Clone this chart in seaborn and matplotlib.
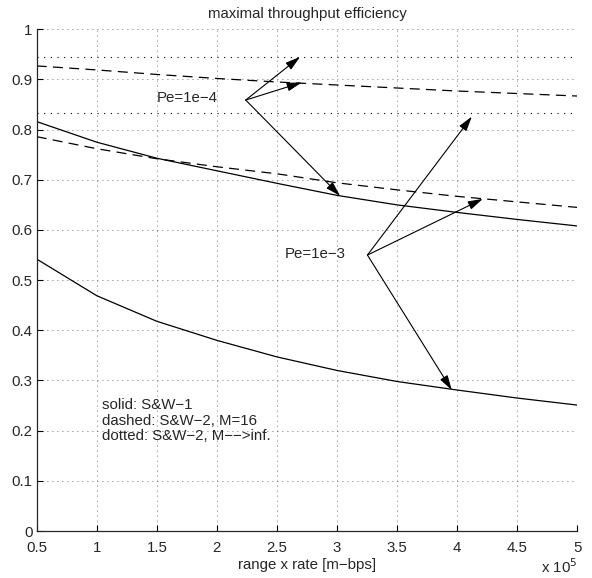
import matplotlib
matplotlib.use('Agg')
import matplotlib.pyplot as plt
import seaborn as sns
import pandas as pd

# range x rate, in units of 1e5 [m-bps]
x = [0.5, 1.0, 1.5, 2.0, 2.5, 3.0, 3.5, 4.0, 4.5, 5.0]

# Pe = 1e-4
sw1_pe4 = [0.816, 0.775, 0.743, 0.718, 0.693, 0.669, 0.650, 0.635, 0.621, 0.608]
sw2_m16_pe4 = [0.927, 0.919, 0.910, 0.902, 0.895, 0.889, 0.883, 0.877, 0.872, 0.867]
# Pe = 1e-3
sw1_pe3 = [0.542, 0.469, 0.418, 0.380, 0.347, 0.320, 0.298, 0.281, 0.265, 0.251]
sw2_m16_pe3 = [0.786, 0.762, 0.742, 0.726, 0.712, 0.694, 0.680, 0.667, 0.656, 0.645]
# M --> inf (flat)
x_inf = [0.5, 5.0]
sw2_inf_pe4 = [0.945, 0.945]
sw2_inf_pe3 = [0.833, 0.833]

xticks = [0.5, 1, 1.5, 2, 2.5, 3, 3.5, 4, 4.5, 5]
xticklabels = ['0.5', '1', '1.5', '2', '2.5', '3', '3.5', '4', '4.5', '5']
yticks = [0, 0.1, 0.2, 0.3, 0.4, 0.5, 0.6, 0.7, 0.8, 0.9, 1]
yticklabels = ['0', '0.1', '0.2', '0.3', '0.4', '0.5', '0.6', '0.7', '0.8', '0.9', '1']

# arrows: label origin -> targets
arrow_pe4_from = (2.240, 0.859)
arrow_pe4_to = [(2.692, 0.945), (2.706, 0.894), (3.025, 0.668)]
arrow_pe3_from = (3.253, 0.550)
arrow_pe3_to = [(4.122, 0.826), (4.213, 0.662), (3.955, 0.281)]

FS = 10.8

sns.set_style('ticks')
plt.rcParams['font.family'] = ['Liberation Sans', 'DejaVu Sans']
plt.rcParams['font.size'] = FS
plt.rcParams['xtick.direction'] = 'in'
plt.rcParams['ytick.direction'] = 'in'

fig = plt.figure(figsize=(5.92, 5.78), dpi=100)
ax = fig.add_axes([0.062, 0.0813, 0.9132, 0.868])

df = pd.DataFrame({'x': x, 'sw1_pe4': sw1_pe4, 'sw2_m16_pe4': sw2_m16_pe4,
                   'sw1_pe3': sw1_pe3, 'sw2_m16_pe3': sw2_m16_pe3})
df_inf = pd.DataFrame({'x': x_inf, 'pe4': sw2_inf_pe4, 'pe3': sw2_inf_pe3})

lw = 0.9
sns.lineplot(data=df, x='x', y='sw1_pe4', ax=ax, color='k', lw=lw)
sns.lineplot(data=df, x='x', y='sw1_pe3', ax=ax, color='k', lw=lw)
sns.lineplot(data=df, x='x', y='sw2_m16_pe4', ax=ax, color='k', lw=lw, linestyle=(0, (8, 5)))
sns.lineplot(data=df, x='x', y='sw2_m16_pe3', ax=ax, color='k', lw=lw, linestyle=(0, (8, 5)))
sns.lineplot(data=df_inf, x='x', y='pe4', ax=ax, color='k', lw=0.8, linestyle=(0, (1, 5)))
sns.lineplot(data=df_inf, x='x', y='pe3', ax=ax, color='k', lw=0.8, linestyle=(0, (1, 5)))

ax.set_xlim(0.5, 5)
ax.set_ylim(0, 1)
ax.set_xticks(xticks)
ax.set_xticklabels(xticklabels)
ax.set_yticks(yticks)
ax.set_yticklabels(yticklabels)
ax.tick_params(length=4, width=0.8, color='k', labelsize=FS)
ax.tick_params(axis='x', pad=7.5)
ax.tick_params(axis='y', pad=3)
ax.grid(True, color='#444444', linestyle=(0, (1, 5)), linewidth=0.6)
sns.despine(ax=ax)
ax.spines['left'].set_linewidth(0.9)
ax.spines['bottom'].set_linewidth(0.9)

ax.set_title('maximal throughput efficiency', fontsize=FS, pad=8)
ax.set_xlabel('range x rate [m\u2212bps]', fontsize=FS, labelpad=2)
ax.set_ylabel('')
ax.text(1.0, -0.052, r'x 10$^{5}$', transform=ax.transAxes, ha='right', va='top', fontsize=FS)

ax.text(1.499, 0.863, 'Pe=1e\u22124', ha='left', va='center', fontsize=FS)
ax.text(2.567, 0.553, 'Pe=1e\u22123', ha='left', va='center', fontsize=FS)
ax.text(1.041, 0.220, 'solid: S&W\u22121\ndashed: S&W\u22122, M=16\ndotted: S&W\u22122, M\u2212\u2212>inf.',
        ha='left', va='center', fontsize=FS, linespacing=1.15)

aprops = dict(arrowstyle='-|>,head_length=0.75,head_width=0.22', color='k', lw=0.8,
              shrinkA=0, shrinkB=0, mutation_scale=12)
for tip in arrow_pe4_to:
    ax.annotate('', xy=tip, xytext=arrow_pe4_from, arrowprops=aprops)
for tip in arrow_pe3_to:
    ax.annotate('', xy=tip, xytext=arrow_pe3_from, arrowprops=aprops)

fig.savefig('out.png', dpi=100)
